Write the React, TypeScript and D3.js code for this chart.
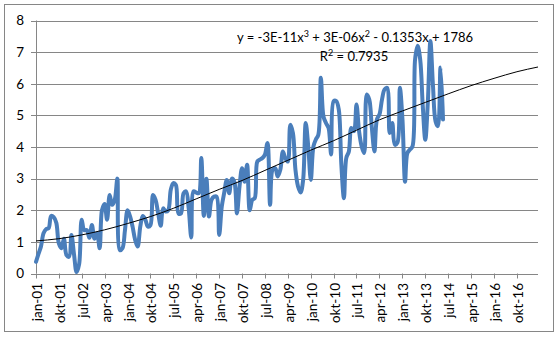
import React from "react";
import * as d3 from "d3";

// Monthly values, starting jan-01
const seriesStart = "2001-01-01";
const seriesValues = [
  0.37, 0.63, 0.85, 1.27, 1.4, 1.43, 1.82, 1.78, 1.6, 0.95,
  0.8, 1.1, 0.58, 0.53, 1.22, 0.6, 0.05, 0.3, 1.7, 1.37,
  1.37, 1.13, 1.53, 1.1, 1.27, 0.8, 2.0, 2.2, 1.7, 2.48,
  2.17, 2.33, 3.0, 0.74, 0.8, 1.37, 2.0, 1.8, 1.48, 1.06,
  0.85, 1.48, 1.82, 1.7, 1.48, 1.53, 2.48, 2.33, 1.9, 1.51,
  2.06, 1.96, 2.0, 2.65, 2.86, 2.8, 1.9, 1.9, 2.54, 2.6,
  2.06, 1.14, 2.6, 2.56, 2.54, 3.65, 1.82, 3.0, 1.8, 2.33,
  2.43, 2.43, 1.22, 2.12, 2.54, 2.96, 2.54, 3.0, 2.9,
  1.9, 2.75, 3.33, 2.9, 3.44, 2.0, 2.33, 2.38, 3.54, 3.6,
  3.65, 3.76, 4.13, 2.17, 3.28, 3.33, 3.07, 3.28, 3.86, 3.65,
  3.54, 4.7, 4.44, 3.28, 2.75, 2.56, 2.96, 4.76, 4.02, 2.96,
  4.02, 4.23, 4.39, 6.19, 4.97, 4.76, 4.6, 3.76, 5.45, 5.45,
  5.19, 3.44, 2.38, 3.65, 3.86, 4.6, 4.5, 5.34, 4.5, 4.02,
  3.81, 5.66, 5.5, 4.6, 3.86, 4.87, 5.03, 5.5, 5.82, 5.87,
  4.44, 4.76, 4.07, 4.13, 5.87, 4.87, 2.9, 3.81, 3.92, 4.02,
  6.77, 7.2, 6.77, 5.29, 4.23, 5.45, 7.35, 5.93, 4.81, 4.66,
  6.51, 4.87,
];

// Polynomial trendline, read at points
const trendDates = [
  "2001-01-01", "2001-10-01", "2002-07-01", "2003-04-01", "2004-01-01", "2004-10-01",
  "2005-07-01", "2006-04-01", "2007-01-01", "2007-10-01", "2008-07-01", "2009-04-01",
  "2010-01-01", "2010-10-01", "2011-07-01", "2012-04-01", "2013-01-01", "2013-10-01",
  "2014-07-01", "2015-04-01", "2016-01-01", "2016-10-01", "2017-06-10",
];
const trendValues = [
  1.03, 1.1, 1.22, 1.38, 1.58, 1.8,
  2.06, 2.36, 2.66, 2.94, 3.26, 3.58,
  3.9, 4.2, 4.53, 4.86, 5.14, 5.41,
  5.68, 5.94, 6.17, 6.38, 6.53,
];

const xTickLabels = [
  "jan-01", "okt-01", "jul-02", "apr-03", "jan-04", "okt-04", "jul-05", "apr-06",
  "jan-07", "okt-07", "jul-08", "apr-09", "jan-10", "okt-10", "jul-11", "apr-12",
  "jan-13", "okt-13", "jul-14", "apr-15", "jan-16", "okt-16",
];
const yTicks = [0, 1, 2, 3, 4, 5, 6, 7, 8];
const axisStart = "2001-01-01";
const axisEnd = "2017-06-10";
const equationText = ["y = -3E-11x", "3", " + 3E-06x", "2", " - 0.1353x + 1786"];
const r2Text = ["R", "2", " = 0.7935"];

const W = 560;
const H = 340;
const FONT = "Lato, 'Open Sans', sans-serif";
const GRID = "#868686";

export default function App() {
  const parse = d3.utcParse("%Y-%m-%d");
  const x = d3
    .scaleUtc()
    .domain([parse(axisStart)!, parse(axisEnd)!])
    .range([36, 538]);
  const y = d3.scaleLinear().domain([0, 8]).range([273.5, 20.5]);

  const start = parse(seriesStart)!;
  const pts = seriesValues.map((v, i) => ({ d: d3.utcMonth.offset(start, i), v }));
  const line = d3
    .line<{ d: Date; v: number }>()
    .x((p) => x(p.d))
    .y((p) => y(p.v))
    .curve(d3.curveCatmullRom.alpha(0.5));

  const trendPts = trendDates.map((s, i) => ({ d: parse(s)!, v: trendValues[i] }));
  const trendLine = d3
    .line<{ d: Date; v: number }>()
    .x((p) => x(p.d))
    .y((p) => y(p.v))
    .curve(d3.curveMonotoneX);

  const tickDates = xTickLabels.map((_, i) => d3.utcMonth.offset(parse(axisStart)!, i * 9));

  return (
    <svg
      width={W}
      height={H}
      style={{ position: "absolute", left: 0, top: 0, background: "#fff" }}
      fontFamily={FONT}
    >
      <rect x={4.5} y={4.5} width={549} height={327} fill="#fff" stroke={GRID} strokeWidth={1} />
      {yTicks.map((t) => (
        <g key={t}>
          {t > 0 && (
            <line x1={36} x2={538} y1={Math.round(y(t)) + 0.5} y2={Math.round(y(t)) + 0.5} stroke={GRID} strokeWidth={1} />
          )}
          <line x1={31} x2={36} y1={Math.round(y(t)) + 0.5} y2={Math.round(y(t)) + 0.5} stroke={GRID} strokeWidth={1} />
          <text x={24} y={y(t)} dy="0.36em" textAnchor="end" fontSize={13.5} fill="#000">
            {t}
          </text>
        </g>
      ))}
      <line x1={36.5} x2={36.5} y1={y(8)} y2={y(0)} stroke={GRID} strokeWidth={1} />
      <line x1={36} x2={538} y1={Math.round(y(0)) + 0.5} y2={Math.round(y(0)) + 0.5} stroke={GRID} strokeWidth={1} />
      {tickDates.map((d, i) => {
        const tx = Math.round(x(d)) + 0.5;
        return (
          <g key={i}>
            <line x1={tx} x2={tx} y1={y(0)} y2={y(0) + 5} stroke={GRID} strokeWidth={1} />
            <text
              transform={`translate(${tx + 5},${283}) rotate(-90)`}
              textAnchor="end"
              fontSize={13.5}
              fill="#000"
            >
              {xTickLabels[i]}
            </text>
          </g>
        );
      })}
      <path
        d={line(pts) || ""}
        fill="none"
        stroke="#4A7EBB"
        strokeWidth={4}
        strokeLinejoin="round"
        strokeLinecap="round"
      />
      <path d={trendLine(trendPts) || ""} fill="none" stroke="#000" strokeWidth={1} />
      <text x={355} y={42} textAnchor="middle" fontSize={13} fill="#000">
        {equationText[0]}
        <tspan dy={-5} fontSize={9}>{equationText[1]}</tspan>
        <tspan dy={5}>{equationText[2]}</tspan>
        <tspan dy={-5} fontSize={9}>{equationText[3]}</tspan>
        <tspan dy={5}>{equationText[4]}</tspan>
      </text>
      <text x={354} y={61} textAnchor="middle" fontSize={13} fill="#000">
        {r2Text[0]}
        <tspan dy={-5} fontSize={9}>{r2Text[1]}</tspan>
        <tspan dy={5}>{r2Text[2]}</tspan>
      </text>
    </svg>
  );
}
